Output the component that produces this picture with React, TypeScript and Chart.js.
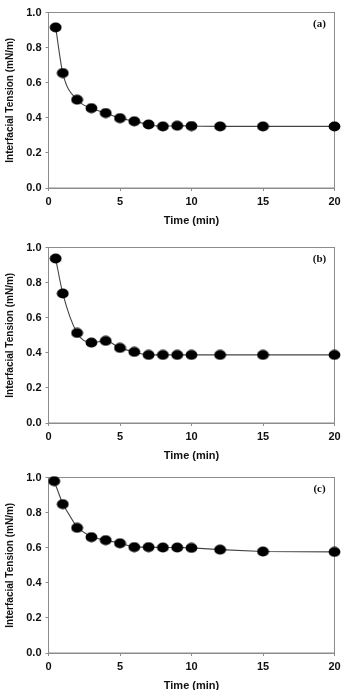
import React, { useEffect, useRef } from "react";
import { Chart, registerables } from "chart.js";

Chart.register(...registerables);

// Interfacial tension vs. time for three systems (a), (b), (c)
const timeA = [0.5, 1, 2, 3, 4, 5, 6, 7, 8, 9, 10, 12, 15, 20];
const tensionA = [0.915, 0.655, 0.503, 0.455, 0.427, 0.398, 0.38, 0.362, 0.351, 0.355, 0.353, 0.351, 0.351, 0.351];

const timeB = [0.5, 1, 2, 3, 4, 5, 6, 7, 8, 9, 10, 12, 15, 20];
const tensionB = [0.937, 0.738, 0.513, 0.458, 0.468, 0.428, 0.405, 0.388, 0.388, 0.388, 0.388, 0.388, 0.388, 0.388];

const timeC = [0.4, 1, 2, 3, 4, 5, 6, 7, 8, 9, 10, 12, 15, 20];
const tensionC = [0.979, 0.848, 0.713, 0.66, 0.643, 0.625, 0.603, 0.603, 0.601, 0.601, 0.599, 0.589, 0.578, 0.576];

const xTicks = [0, 5, 10, 15, 20];
const yTicks = [0, 0.2, 0.4, 0.6, 0.8, 1.0];
const xTitle = "Time (min)";
const yTitle = "Interfacial Tension (mN/m)";

const SANS = '"Liberation Sans", Arial, sans-serif';
const SERIF = '"Liberation Serif", "Times New Roman", serif';
const AXIS_GREY = "#8c8c8c";
const TEXT = "#111";

const CANVAS_W = 346;
const CANVAS_H = 232;

function makeMarker(): HTMLCanvasElement {
  const c = document.createElement("canvas");
  c.width = 13;
  c.height = 11;
  const ctx = c.getContext("2d")!;
  ctx.fillStyle = "#000";
  ctx.beginPath();
  ctx.ellipse(6.5, 5.5, 5.9, 5.0, 0, 0, Math.PI * 2);
  ctx.fill();
  return c;
}

// Grey frame around the plot area plus the panel tag in the top-right corner
const framePlugin = {
  id: "panelFrame",
  beforeDatasetsDraw(chart: any) {
    const { ctx, chartArea } = chart;
    ctx.save();
    ctx.strokeStyle = AXIS_GREY;
    ctx.lineWidth = 1;
    ctx.strokeRect(chartArea.left, chartArea.top, chartArea.right - chartArea.left, chartArea.bottom - chartArea.top);
    const tag = chart.options.plugins.panelFrame?.tag;
    if (tag) {
      ctx.fillStyle = TEXT;
      ctx.font = `bold 11px ${SERIF}`;
      ctx.textAlign = "center";
      ctx.textBaseline = "middle";
      ctx.fillText(tag, chartArea.right - 15, chartArea.top + 11.5);
    }
    ctx.restore();
  },
};

type PanelProps = {
  times: number[];
  values: number[];
  tag: string;
  smooth: boolean;
  top: number;
};

function Panel({ times, values, tag, smooth, top }: PanelProps) {
  const ref = useRef<HTMLCanvasElement | null>(null);

  useEffect(() => {
    if (!ref.current) return;
    const marker = makeMarker();
    const chart = new Chart(ref.current, {
      type: "scatter",
      data: {
        datasets: [
          {
            data: times.map((t, i) => ({ x: t, y: values[i] })),
            showLine: true,
            borderColor: "#444",
            borderWidth: 1.1,
            backgroundColor: "#000",
            pointStyle: marker,
            pointRadius: 6,
            cubicInterpolationMode: smooth ? "monotone" : "default",
            tension: 0,
            clip: false,
          } as any,
        ],
      },
      options: {
        responsive: false,
        devicePixelRatio: 1,
        animation: false,
        events: [],
        layout: { padding: { top: 12.5, right: 11.5, bottom: 0, left: 0 } },
        plugins: {
          legend: { display: false },
          tooltip: { enabled: false },
          panelFrame: { tag },
        } as any,
        scales: {
          x: {
            type: "linear",
            min: 0,
            max: 20,
            afterBuildTicks: (s: any) => {
              s.ticks = xTicks.map((v) => ({ value: v }));
            },
            afterFit: (s: any) => {
              s.height = 44;
            },
            grid: { display: true, drawOnChartArea: false, drawTicks: true, tickLength: 3, color: AXIS_GREY },
            border: { display: true, color: AXIS_GREY, width: 1 },
            ticks: {
              color: TEXT,
              padding: 4,
              maxRotation: 0,
              autoSkip: false,
              font: { family: SANS, size: 11, weight: "bold" },
              callback: (v: any) => String(v),
            },
            title: {
              display: true,
              text: xTitle,
              color: TEXT,
              padding: { top: 0, bottom: 4.7 },
              font: { family: SANS, size: 11, weight: "bold" },
            },
          },
          y: {
            type: "linear",
            min: 0,
            max: 1,
            afterBuildTicks: (s: any) => {
              s.ticks = yTicks.map((v) => ({ value: v }));
            },
            afterFit: (s: any) => {
              s.width = 48.5;
            },
            grid: { display: true, drawOnChartArea: false, drawTicks: true, tickLength: 3, color: AXIS_GREY },
            border: { display: true, color: AXIS_GREY, width: 1 },
            ticks: {
              color: TEXT,
              padding: 4,
              autoSkip: false,
              font: { family: SANS, size: 11, weight: "bold" },
              callback: (v: any) => Number(v).toFixed(1),
            },
            title: {
              display: true,
              text: yTitle,
              color: TEXT,
              padding: { top: 4, bottom: 0 },
              font: { family: SANS, size: 10, weight: "bold" },
            },
          },
        },
      },
      plugins: [framePlugin],
    });
    return () => chart.destroy();
  }, [times, values, tag, smooth]);

  return (
    <div style={{ position: "absolute", left: 0, top, width: CANVAS_W, height: CANVAS_H }}>
      <canvas ref={ref} width={CANVAS_W} height={CANVAS_H} style={{ display: "block" }} />
    </div>
  );
}

export default function App() {
  return (
    <div
      style={{
        position: "absolute",
        left: 0,
        top: 0,
        width: 346,
        height: 690,
        background: "#fff",
        overflow: "hidden",
      }}
    >
      <Panel times={timeA} values={tensionA} tag="(a)" smooth={true} top={0} />
      <Panel times={timeB} values={tensionB} tag="(b)" smooth={true} top={235} />
      <Panel times={timeC} values={tensionC} tag="(c)" smooth={false} top={465} />
    </div>
  );
}
